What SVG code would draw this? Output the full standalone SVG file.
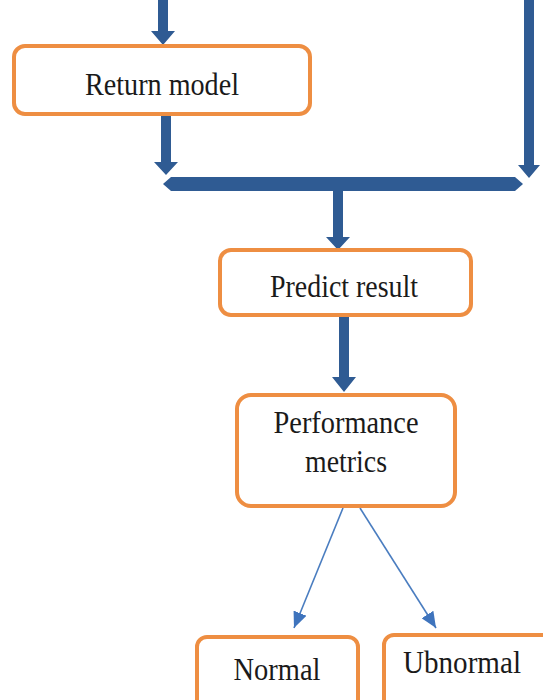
<svg xmlns="http://www.w3.org/2000/svg" width="543" height="700" viewBox="0 0 543 700">
  <style>
    .box { fill: #ffffff; stroke: #EE8E42; stroke-width: 4; }
    .label { font-family: 'Liberation Serif', 'Times New Roman', Times, serif; font-size: 31px; fill: #1a1a1a; text-anchor: middle; }
    .thick { fill: #2F5B93; }
    .thin { stroke: #4A7DC0; stroke-width: 1.6; fill: none; }
  </style>
  <defs>
    <marker id="tri" viewBox="0 0 10 10" refX="10" refY="5" markerWidth="16" markerHeight="14" markerUnits="userSpaceOnUse" orient="auto" preserveAspectRatio="none">
      <path d="M0,0 L10,5 L0,10 Z" fill="#3F74BD"/>
    </marker>
  </defs>

  <rect width="543" height="700" fill="#ffffff"/>

  <!-- connectors -->
  <g id="connectors">
    <!-- incoming arrow into Return model -->
    <polygon class="thick" points="158,0 168,0 168,31 175,31 163,45 151,31 158,31"/>
    <!-- Return model down to the joining bar -->
    <polygon class="thick" points="161,114 171,114 171,162 178,162 166,175 154,162 161,162"/>
    <!-- right-hand incoming line down to the joining bar -->
    <polygon class="thick" points="524,0 534,0 534,165 540,165 529,178 518,165 524,165"/>
    <!-- joining bar with pointed ends -->
    <polygon class="thick" points="163,184 171,177 515,177 523,184 515,191 171,191"/>
    <!-- bar down to Predict result -->
    <polygon class="thick" points="333,191 343,191 343,237 350,237 338,250 326,237 333,237"/>
    <!-- Predict result down to Performance metrics -->
    <polygon class="thick" points="339,316 349,316 349,377 356,377 344,392 332,377 339,377"/>
    <!-- Performance metrics to the two outcomes -->
    <line class="thin" x1="343" y1="508" x2="294" y2="628" marker-end="url(#tri)"/>
    <line class="thin" x1="360" y1="508" x2="436" y2="628" marker-end="url(#tri)"/>
  </g>

  <g id="return-model">
    <rect class="box" x="14" y="46" width="296" height="68" rx="11"/>
    <text class="label" x="162" y="95" textLength="154" lengthAdjust="spacingAndGlyphs">Return model</text>
  </g>

  <g id="predict-result">
    <rect class="box" x="220" y="250" width="251" height="65" rx="11"/>
    <text class="label" x="344" y="297" textLength="148" lengthAdjust="spacingAndGlyphs">Predict result</text>
  </g>

  <g id="performance-metrics">
    <rect class="box" x="237" y="395" width="218" height="111" rx="14"/>
    <text class="label" x="346" y="433" textLength="145" lengthAdjust="spacingAndGlyphs">Performance</text>
    <text class="label" x="346" y="472" textLength="82" lengthAdjust="spacingAndGlyphs">metrics</text>
  </g>

  <g id="normal">
    <rect class="box" x="197" y="637" width="161" height="80" rx="10"/>
    <text class="label" x="277" y="680" textLength="87" lengthAdjust="spacingAndGlyphs">Normal</text>
  </g>

  <g id="ubnormal">
    <rect class="box" x="384" y="635" width="180" height="80" rx="10"/>
    <text class="label" x="462" y="673" textLength="118" lengthAdjust="spacingAndGlyphs">Ubnormal</text>
  </g>
</svg>
